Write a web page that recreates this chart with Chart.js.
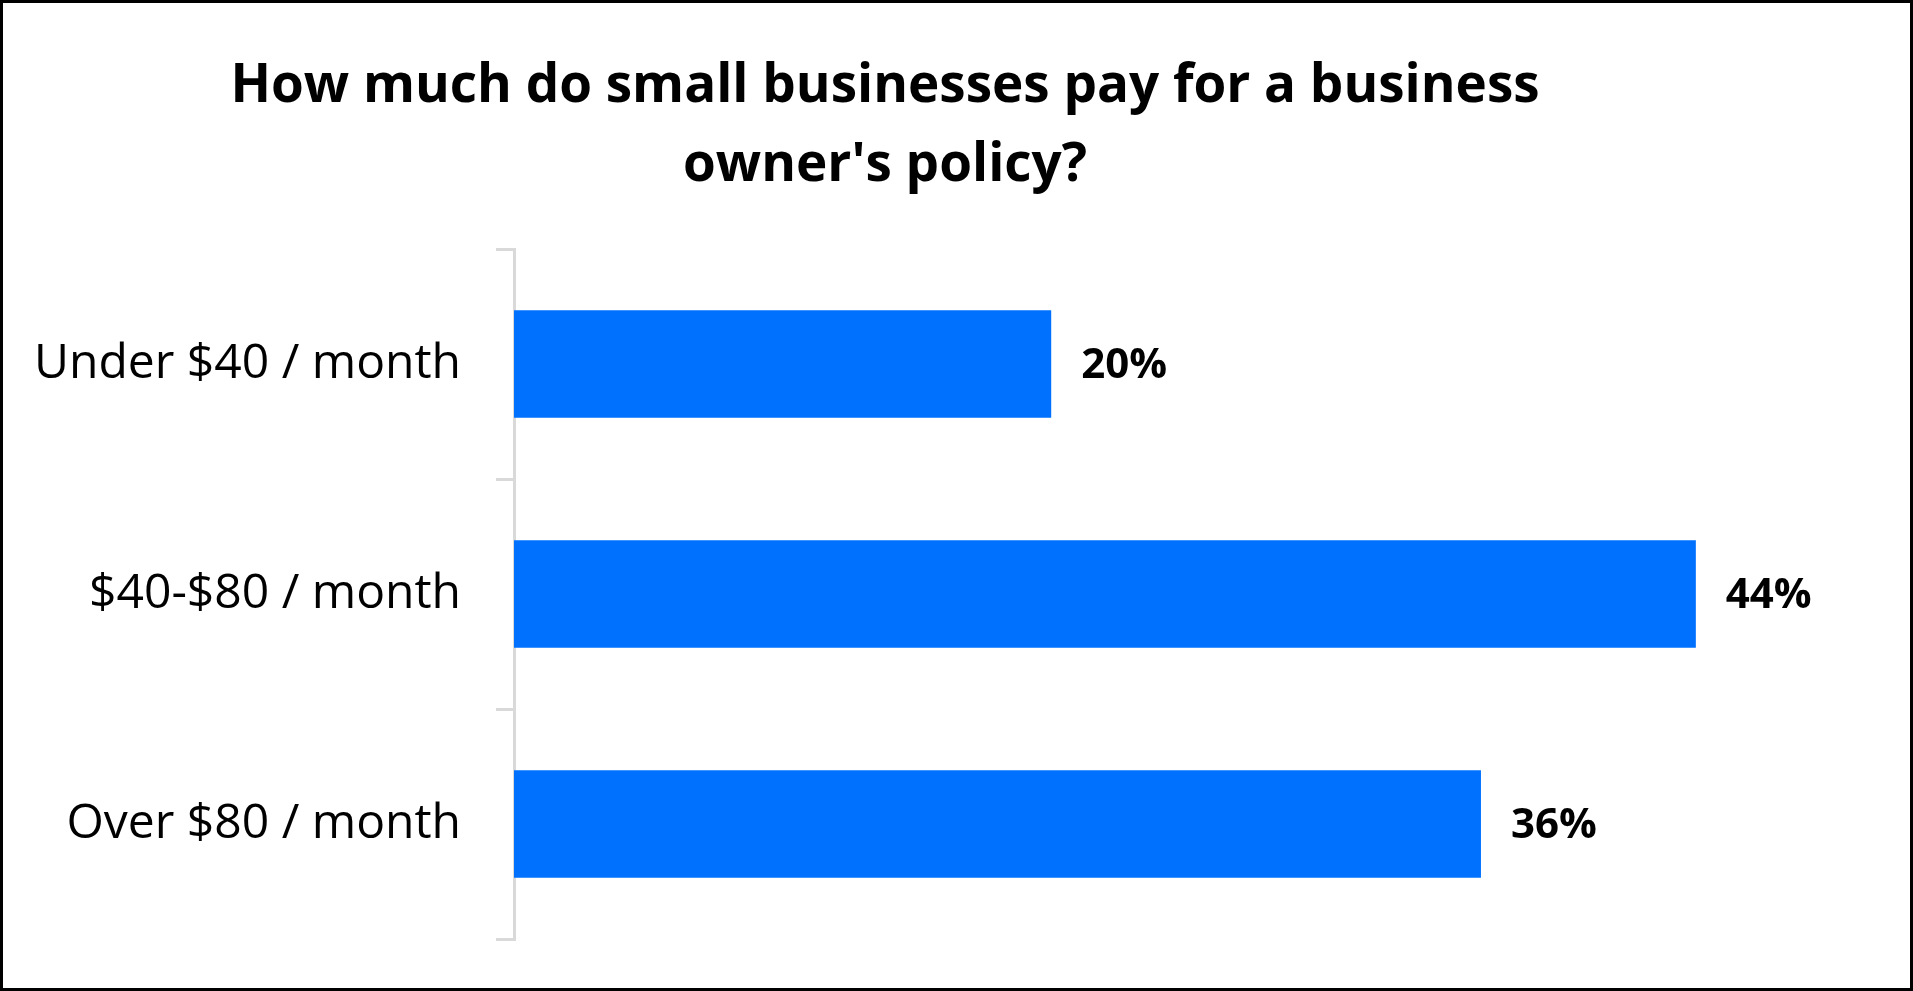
<!DOCTYPE html>
<html>
<head>
<meta charset="utf-8">
<script src="https://cdn.jsdelivr.net/npm/chart.js@4.4.1/dist/chart.umd.min.js"></script>
<style>
  html, body { margin: 0; padding: 0; background: #fff; }
  #frame {
    position: relative;
    width: 1913px; height: 991px;
    box-sizing: border-box;
    border: 3px solid #000;
    background: #fff;
  }
  #title {
    position: absolute;
    left: 0; width: 1764px; top: 39px;
    text-align: center;
    font-family: "Open Sans", sans-serif;
    font-weight: 700;
    font-size: 53px;
    line-height: 79px;
    color: #000;
  }
  #chart { position: absolute; left: 0; top: 0; }
</style>
</head>
<body>
<div id="frame">
  <canvas id="chart" width="1907" height="985"></canvas>
  <div id="title">How much do small businesses pay for a business<br>owner's policy?</div>
</div>
<script>
// Data
var categories = ['Under $40 / month', '$40-$80 / month', 'Over $80 / month'];
var shares = [20, 44, 36];

// Percent labels to the right of each bar
var valueLabels = {
    id: 'valueLabels',
    afterDatasetsDraw: function (chart) {
        var ctx = chart.ctx;
        var meta = chart.getDatasetMeta(0);
        ctx.save();
        ctx.font = 'bold 42px "Open Sans"';
        ctx.fillStyle = '#000';
        ctx.textAlign = 'left';
        ctx.textBaseline = 'middle';
        meta.data.forEach(function (bar, i) {
            ctx.fillText(shares[i] + '%', bar.x + 30, bar.y + 2);
        });
        ctx.restore();
    }
};

var ctx = document.getElementById('chart').getContext('2d');
var chart = new Chart(ctx, {
    type: 'bar',
    data: {
        labels: categories,
        datasets: [
            {
                data: shares,
                backgroundColor: '#0070ff',
                borderWidth: 0,
                barPercentage: 0.467,
                categoryPercentage: 1
            }
        ]
    },
    options: {
        indexAxis: 'y',
        responsive: false,
        animation: false,
        layout: {
            padding: { top: 246, bottom: 49, left: 0, right: 53 }
        },
        plugins: {
            legend: { display: false },
            tooltip: { enabled: false }
        },
        scales: {
            x: {
                display: false,
                min: 0,
                max: 50
            },
            y: {
                afterFit: function (scale) {
                    scale.width = 511;
                    // labels sit mid-band, no extra room needed above/below
                    scale.paddingTop = 0;
                    scale.paddingBottom = 0;
                },
                grid: {
                    offset: true,
                    drawOnChartArea: false,
                    drawTicks: true,
                    tickLength: 18,
                    color: '#d9d9d9',
                    lineWidth: 3
                },
                border: { display: true, color: '#d9d9d9', width: 3 },
                ticks: {
                    color: '#000',
                    padding: 35,
                    font: { family: 'Open Sans', size: 48 }
                }
            }
        }
    },
    plugins: [valueLabels]
});
</script>
</body>
</html>
